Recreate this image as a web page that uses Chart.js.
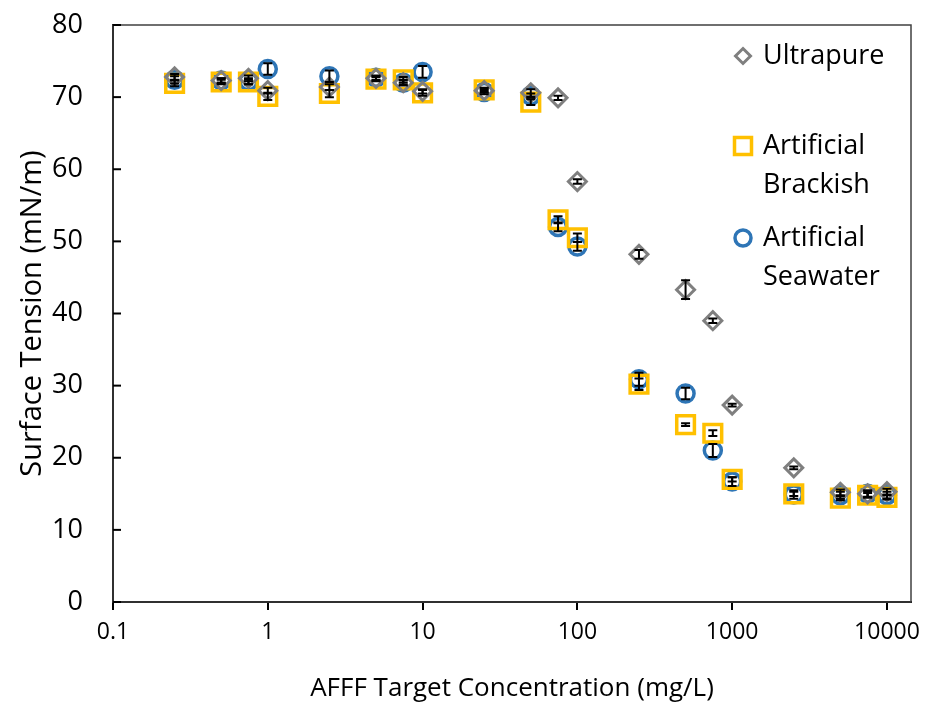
<!DOCTYPE html>
<html>
<head>
<meta charset="utf-8">
<script src="https://cdn.jsdelivr.net/npm/chart.js@4"></script>
<style>
  html, body { margin: 0; padding: 0; background: #fff; }
  #wrap { width: 930px; height: 704px; }
</style>
</head>
<body>
<div id="wrap"><canvas id="chart" width="930" height="704"></canvas></div>
<script>
// AFFF target concentrations (mg/L)
const concentrations = [0.25, 0.5, 0.75, 1, 2.5, 5, 7.5, 10, 25, 50, 75, 100, 250, 500, 750, 1000, 2500, 5000, 7500, 10000];

// surface tension (mN/m) and error (+/-) per matrix
const ultrapure    = [72.8, 72.3, 72.6, 70.9, 71.4, 72.6, 72.0, 70.8, 70.9, 70.6, 69.9, 58.3, 48.2, 43.3, 39.0, 27.3, 18.6, 15.2, 15.0, 15.3];
const ultrapureErr = [0.4, 0.3, 0.4, 0.4, 0.4, 0.3, 0.3, 0.3, 0.3, 0.5, 0.3, 0.3, 0.6, 1.3, 0.3, 0.2, 0.2, 0.4, 0.4, 0.4];

const brackish     = [71.9, 72.1, 72.1, 70.1, 70.5, 72.5, 72.4, 70.6, 71.0, 69.3, 53.0, 50.5, 30.2, 24.6, 23.4, 17.0, 15.0, 14.4, 14.8, 14.5];
const brackishErr  = [0.4, 0.3, 0.3, 0.5, 0.5, 0.3, 0.4, 0.4, 0.3, 0.4, 0.5, 0.6, 0.8, 0.2, 0.4, 0.3, 0.3, 0.3, 0.3, 0.3];

const seawater     = [72.4, 72.3, 72.2, 73.9, 72.9, 72.7, 72.0, 73.5, 70.7, 70.2, 52.0, 49.3, 30.9, 28.9, 21.0, 16.7, 14.9, 14.8, 15.0, 14.8];
const seawaterErr  = [0.5, 0.3, 0.4, 0.8, 0.8, 0.3, 0.4, 0.8, 0.3, 0.3, 0.6, 0.6, 0.9, 0.8, 0.9, 0.6, 0.6, 0.5, 0.5, 0.5];

const xTicks = [0.1, 1, 10, 100, 1000, 10000];
const yTicks = [0, 10, 20, 30, 40, 50, 60, 70, 80];

const FONT = "'Open Sans', sans-serif";

function pts(ys) {
  return concentrations.map((x, i) => ({ x: x, y: ys[i] }));
}

const series = [
  { label: ['Ultrapure'], data: ultrapure, err: ultrapureErr, color: '#7F7F7F', style: 'rectRot', radius: 9, bw: 3 },
  { label: ['Artificial', 'Brackish'], data: brackish, err: brackishErr, color: '#FFC000', style: 'rect', radius: 12.5, bw: 3.5 },
  { label: ['Artificial', 'Seawater'], data: seawater, err: seawaterErr, color: '#2E75B6', style: 'circle', radius: 8.5, bw: 3.5 }
];

// error bars, plot frame, inside y ticks and the legend
const extras = {
  id: 'extras',
  afterDatasetsDraw(chart) {
    const ctx = chart.ctx;
    const xs = chart.scales.x, ys = chart.scales.y;
    const a = chart.chartArea;
    ctx.save();
    ctx.strokeStyle = '#000';
    ctx.lineWidth = 2;
    series.forEach(s => {
      s.data.forEach((v, i) => {
        const px = xs.getPixelForValue(concentrations[i]);
        const top = ys.getPixelForValue(v + s.err[i]);
        const bot = ys.getPixelForValue(v - s.err[i]);
        ctx.beginPath();
        ctx.moveTo(px, top); ctx.lineTo(px, bot);
        ctx.moveTo(px - 4.5, top); ctx.lineTo(px + 4.5, top);
        ctx.moveTo(px - 4.5, bot); ctx.lineTo(px + 4.5, bot);
        ctx.stroke();
      });
    });

    // frame
    ctx.strokeStyle = '#404040';
    ctx.lineWidth = 1.5;
    ctx.strokeRect(a.left, a.top, a.right - a.left, a.bottom - a.top);

    // inside tick marks on y
    ctx.strokeStyle = '#000';
    ctx.lineWidth = 2;
    yTicks.forEach(t => {
      const py = ys.getPixelForValue(t);
      ctx.beginPath();
      ctx.moveTo(a.left, py); ctx.lineTo(a.left + 8, py);
      ctx.stroke();
    });

    // legend
    const lx = 743, textX = 763;
    const rows = [56, 146, 238];
    ctx.font = '27px ' + FONT;
    ctx.textBaseline = 'middle';
    ctx.fillStyle = '#000';
    series.forEach((s, k) => {
      const cy = rows[k];
      ctx.strokeStyle = s.color;
      ctx.lineWidth = s.bw;
      ctx.beginPath();
      if (s.style === 'rectRot') {
        ctx.moveTo(lx, cy - 7.5); ctx.lineTo(lx + 7.5, cy); ctx.lineTo(lx, cy + 7.5); ctx.lineTo(lx - 7.5, cy); ctx.closePath();
      } else if (s.style === 'rect') {
        ctx.rect(lx - 8.5, cy - 8.5, 17, 17);
      } else {
        ctx.arc(lx, cy, 8, 0, Math.PI * 2);
      }
      ctx.stroke();
      s.label.forEach((t, j) => ctx.fillText(t, textX, cy + j * 39));
    });
    ctx.restore();
  }
};

new Chart(document.getElementById('chart'), {
  type: 'scatter',
  data: {
    datasets: series.map(s => ({
      label: s.label.join(' '),
      data: pts(s.data),
      pointStyle: s.style,
      pointRadius: s.radius,
      pointHoverRadius: s.radius,
      pointBorderWidth: s.bw,
      borderColor: s.color,
      backgroundColor: 'rgba(0,0,0,0)',
      showLine: false
    }))
  },
  options: {
    responsive: false,
    animation: false,
    layout: { padding: { top: 25, right: 19, left: 0, bottom: 0 } },
    plugins: {
      legend: { display: false },
      tooltip: { enabled: false }
    },
    scales: {
      x: {
        type: 'logarithmic',
        min: 0.1,
        max: 14300,
        afterBuildTicks: scale => { scale.ticks = xTicks.map(v => ({ value: v, major: true })); },
        afterFit: scale => { scale.height = 102; scale.paddingLeft = 0; scale.paddingRight = 0; },
        border: { color: '#000', width: 2 },
        grid: { drawOnChartArea: false, tickLength: 8, color: '#000', lineWidth: 2 },
        ticks: {
          autoSkip: false,
          maxRotation: 0,
          padding: 9,
          color: '#000',
          font: { family: FONT, size: 23 },
          callback: v => String(v)
        },
        title: {
          display: true,
          text: 'AFFF Target Concentration (mg/L)',
          color: '#000',
          font: { family: FONT, size: 26 },
          padding: { top: 0, bottom: 0 }
        }
      },
      y: {
        min: 0,
        max: 80,
        afterBuildTicks: scale => { scale.ticks = yTicks.map(v => ({ value: v })); },
        afterFit: scale => { scale.width = 113; scale.paddingTop = 0; scale.paddingBottom = 0; },
        border: { color: '#000', width: 2 },
        grid: { display: false, drawTicks: false },
        ticks: {
          padding: 30,
          color: '#000',
          font: { family: FONT, size: 27 }
        },
        title: {
          display: true,
          text: 'Surface Tension (mN/m)',
          color: '#000',
          font: { family: FONT, size: 29 },
          padding: { top: 15, bottom: 0 }
        }
      }
    }
  },
  plugins: [extras]
});
</script>
</body>
</html>
